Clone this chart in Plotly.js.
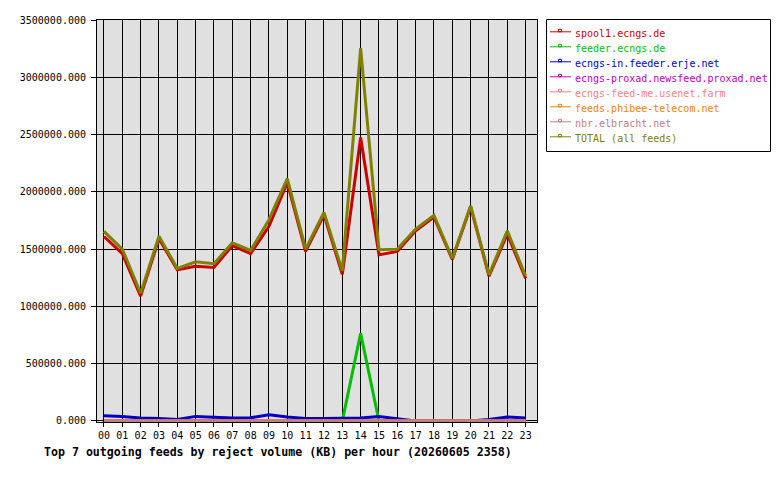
<!DOCTYPE html>
<html>
<head>
<meta charset="utf-8">
<script src="https://cdn.plot.ly/plotly-3.0.1.min.js"></script>
<style>html,body{margin:0;padding:0;background:#fff;}#chart{width:780px;height:480px;}</style>
</head>
<body>
<div id="chart"></div>
<script>
var hours = ["00","01","02","03","04","05","06","07","08","09","10","11","12","13","14","15","16","17","18","19","20","21","22","23"];
var feedNames = ["spool1.ecngs.de","feeder.ecngs.de","ecngs-in.feeder.erje.net","ecngs-proxad.newsfeed.proxad.net","ecngs-feed-me.usenet.farm","feeds.phibee-telecom.net","nbr.elbracht.net","TOTAL (all feeds)"];
var feedColors = ["#cc0000","#00c000","#0000cc","#c000c0","#ff8080","#ff8000","#c08080","#808000"];
var spool1 = [1610000,1460000,1090000,1590000,1320000,1350000,1340000,1530000,1460000,1700000,2080000,1480000,1800000,1280000,2475000,1450000,1480000,1660000,1780000,1410000,1870000,1265000,1630000,1245000];
var feeder = [0,0,0,0,0,0,0,0,0,0,0,0,0,0,765000,0,0,0,0,0,0,0,0,0];
var erje = [45000,40000,25000,22000,12000,40000,32000,25000,28000,55000,35000,22000,22000,22000,25000,40000,22000,0,0,0,0,12000,35000,25000];
var proxad = [0,0,0,0,0,0,0,0,0,0,0,0,0,0,0,0,0,0,0,0,0,0,0,0];
var feedme = [0,0,0,0,0,0,0,0,0,0,0,0,0,0,0,0,0,0,0,0,0,0,0,0];
var phibee = [0,0,0,0,0,0,0,0,0,0,0,0,0,0,0,0,0,0,0,0,0,0,0,0];
var elbracht = [0,0,0,0,0,0,0,0,0,0,0,0,0,0,0,0,0,0,0,0,0,0,0,0];
var total = [1655000,1500000,1115000,1612000,1332000,1390000,1372000,1555000,1488000,1757000,2115000,1502000,1820000,1310000,3255000,1495000,1500000,1675000,1795000,1420000,1878000,1278000,1660000,1265000];
var yTicks = [0,500000,1000000,1500000,2000000,2500000,3000000,3500000];
var chartTitle = "Top 7 outgoing feeds by reject volume (KB) per hour (20260605 2358)";

var series = [spool1, feeder, erje, proxad, feedme, phibee, elbracht, total];
var xs = hours.map(function(h, i){ return i; });
var mono = "DejaVu Sans Mono, monospace";

var traces = series.map(function(s, i){
  return {x: xs, y: s, type: "scatter", mode: "lines", name: feedNames[i],
    line: {color: feedColors[i], width: 3}, showlegend: false, hoverinfo: "none"};
});

// pixel helpers for plot area 97..537 x 20..422
var L = 97, R = 537, T = 20, B = 422;
function px(x){ return (x - L) / (R - L); }
function py(y){ return (B - y) / (B - T); }

var shapes = [];
var annotations = [];
// legend box
shapes.push({type: "rect", xref: "paper", yref: "paper", x0: px(546.5), x1: px(770.5), y0: py(151.5), y1: py(19.5),
  line: {color: "#000", width: 1}, fillcolor: "#fff", layer: "above"});
feedNames.forEach(function(n, i){
  var yc = 33.3 + i * 15;
  var yl = yc - 1.5;
  shapes.push({type: "line", xref: "paper", yref: "paper", x0: px(550), x1: px(571), y0: py(yl), y1: py(yl),
    line: {color: feedColors[i], width: 1}, layer: "above"});
  shapes.push({type: "rect", xref: "paper", yref: "paper", x0: px(558.5), x1: px(561.5), y0: py(yl), y1: py(yl - 2.5),
    line: {color: feedColors[i], width: 1}, fillcolor: "rgba(0,0,0,0)", layer: "above"});
  annotations.push({text: n, xref: "paper", yref: "paper", x: px(573), y: py(yc), xanchor: "left", yanchor: "middle",
    showarrow: false, font: {family: mono, size: 10, color: feedColors[i]}});
});
annotations.push({text: "<b>" + chartTitle + "</b>", xref: "paper", yref: "paper", x: px(42), y: py(452),
  xanchor: "left", yanchor: "middle", showarrow: false, font: {family: mono, size: 11.6, color: "#000"}});

var layout = {
  width: 780, height: 480,
  margin: {l: L, r: 780 - R, t: T, b: 480 - B, pad: 0},
  paper_bgcolor: "#ffffff", plot_bgcolor: "#e0e0e0",
  showlegend: false,
  font: {family: mono, size: 10, color: "#000"},
  xaxis: {range: [-0.38, 23.62], tickmode: "array", tickvals: xs, ticktext: hours,
    showgrid: true, gridcolor: "#000", gridwidth: 1, zeroline: false,
    showline: true, linecolor: "#000", linewidth: 1, mirror: true,
    ticks: "outside", ticklen: 4, tickcolor: "#000", tickfont: {family: mono, size: 10, color: "#000"}, fixedrange: true},
  yaxis: {range: [-9000, 3500000], tickmode: "array", tickvals: yTicks, tickformat: ".3f",
    showgrid: true, gridcolor: "#000", gridwidth: 1, zeroline: false,
    showline: true, linecolor: "#000", linewidth: 1, mirror: true,
    ticks: "outside", ticklen: 5, tickcolor: "#000", ticklabelstandoff: 3, tickfont: {family: mono, size: 10, color: "#000"}, fixedrange: true},
  shapes: shapes,
  annotations: annotations
};
Plotly.newPlot("chart", traces, layout, {staticPlot: true, displayModeBar: false});
</script>
</body>
</html>
